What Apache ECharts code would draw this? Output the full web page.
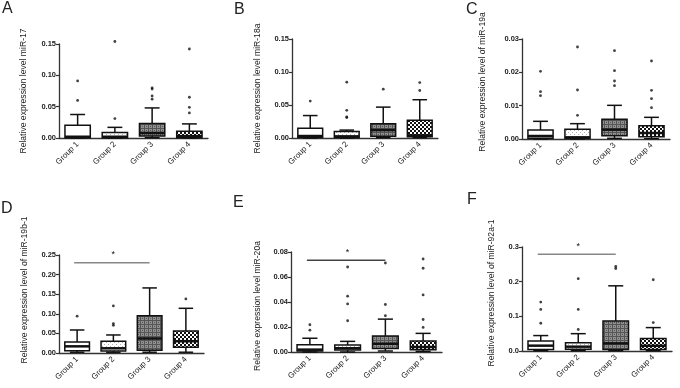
<!DOCTYPE html>
<html>
<head>
<meta charset="utf-8">
<script src="https://cdn.jsdelivr.net/npm/echarts@6/dist/echarts.min.js"></script>
<style>
html, body { margin: 0; padding: 0; background: #fff; }
#main { width: 680px; height: 388px; }
</style>
</head>
<body>
<div id="main"></div>
<script>
var groups = ['Group 1', 'Group 2', 'Group 3', 'Group 4'];

// box stats per group: [min, q1, median, q3, max]
var statsA = [[0, 0.0005, 0.002, 0.0204, 0.0375], [0, 0.0005, 0.002, 0.0086, 0.017], [0.0005, 0.003, 0.008, 0.023, 0.048], [0, 0.0005, 0.003, 0.0107, 0.0225]];
var statsB = [[0, 0.001, 0.003, 0.0146, 0.034], [0, 0.0008, 0.0025, 0.010, 0.012], [0.0005, 0.0025, 0.012, 0.0216, 0.0468], [0.0005, 0.002, 0.004, 0.027, 0.058]];
var statsC = [[0, 0.0002, 0.0009, 0.0027, 0.0053], [0, 0.0002, 0.0005, 0.0029, 0.0046], [0.0002, 0.001, 0.0028, 0.0059, 0.0101], [0.0001, 0.0007, 0.0018, 0.004, 0.0065]];
var statsD = [[0.002, 0.006, 0.017, 0.028, 0.0587], [0.002, 0.005, 0.012, 0.030, 0.046], [0.002, 0.007, 0.037, 0.095, 0.166], [0.002, 0.0145, 0.03, 0.056, 0.114]];
var statsE = [[0, 0.0008, 0.0019, 0.0058, 0.011], [0, 0.0016, 0.003, 0.0056, 0.0085], [0.0008, 0.0029, 0.0066, 0.0128, 0.0263], [0.0005, 0.0019, 0.004, 0.0088, 0.0149]];
var statsF = [[0.001, 0.004, 0.0154, 0.029, 0.0445], [0.001, 0.005, 0.0125, 0.024, 0.050], [0.001, 0.004, 0.022, 0.0868, 0.188], [0.001, 0.004, 0.015, 0.0357, 0.0675]];

// outliers: [group index, value]
var outA = [[0, 0.091], [0, 0.060], [1, 0.154], [1, 0.031], [2, 0.080], [2, 0.078], [2, 0.067], [2, 0.062], [3, 0.142], [3, 0.065], [3, 0.049], [3, 0.040]];
var outB = [[0, 0.056], [1, 0.0846], [1, 0.042], [1, 0.031], [1, 0.032], [2, 0.074], [3, 0.084], [3, 0.072]];
var outC = [[0, 0.0203], [0, 0.0142], [0, 0.013], [1, 0.0276], [1, 0.0147], [1, 0.0071], [2, 0.0265], [2, 0.0205], [2, 0.0174], [2, 0.016], [3, 0.0234], [3, 0.0146], [3, 0.0121], [3, 0.0094]];
var outD = [[0, 0.094], [1, 0.120], [1, 0.0705], [1, 0.075], [3, 0.138]];
var outE = [[0, 0.0218], [0, 0.0175], [1, 0.068], [1, 0.0447], [1, 0.0385], [1, 0.025], [2, 0.0712], [2, 0.038], [2, 0.029], [3, 0.0744], [3, 0.067], [3, 0.0457], [3, 0.026], [3, 0.0197]];
var outF = [[0, 0.141], [0, 0.120], [0, 0.080], [1, 0.2085], [1, 0.120], [1, 0.062], [2, 0.238], [2, 0.244], [3, 0.2055], [3, 0.082]];

// significance bar Group 1 - Group 3: [from, bar level, to, star level]
var sigD = [0, 0.23, 2, 0.25];
var sigE = [0, 0.0734, 2, 0.0797];
var sigF = [0, 0.279, 2, 0.30];

// y axis ticks: max, step, decimals
var ticksA = [0.15, 0.05, 2];
var ticksB = [0.15, 0.05, 2];
var ticksC = [0.03, 0.01, 2];
var ticksD = [0.25, 0.05, 2];
var ticksE = [0.08, 0.02, 2];
var ticksF = [0.3, 0.1, 1];

var FONT = 'Liberation Sans, Arial, sans-serif';

// fill patterns for the four groups
function makePattern(draw) {
    var c = document.createElement('canvas');
    c.width = 4;
    c.height = 4;
    var ctx = c.getContext('2d');
    draw(ctx);
    return { image: c, repeat: 'repeat' };
}
var fills = [
    '#ffffff',
    makePattern(function (ctx) {
        ctx.fillStyle = '#fff';
        ctx.fillRect(0, 0, 4, 4);
        ctx.fillStyle = '#b0b0b0';
        ctx.fillRect(0, 0, 1, 1);
        ctx.fillRect(2, 2, 1, 1);
    }),
    makePattern(function (ctx) {
        ctx.fillStyle = '#909090';
        ctx.fillRect(0, 0, 4, 4);
        ctx.fillStyle = '#555';
        ctx.fillRect(0, 0, 4, 1);
        ctx.fillRect(0, 0, 1, 4);
        ctx.fillRect(2, 2, 1, 1);
    }),
    makePattern(function (ctx) {
        ctx.fillStyle = '#fff';
        ctx.fillRect(0, 0, 4, 4);
        ctx.fillStyle = '#111';
        ctx.fillRect(0, 0, 2, 2);
        ctx.fillRect(2, 2, 2, 2);
    })
];

var panels = [
    { letter: 'A', pos: [2, 0.5], name: 'Relative expression level miR-17', stats: statsA, out: outA, sig: null, ticks: ticksA,
      grid: { left: 59, top: 44, width: 149, height: 94 }, gap: 31, shift: 0 },
    { letter: 'B', pos: [234, 1.5], name: 'Relative expression level miR-18a', stats: statsB, out: outB, sig: null, ticks: ticksB,
      grid: { left: 292, top: 39, width: 146, height: 99 }, gap: 30, shift: 0 },
    { letter: 'C', pos: [466, 1.5], name: 'Relative expression level of miR-19a', stats: statsC, out: outC, sig: null, ticks: ticksC,
      grid: { left: 522, top: 39, width: 148, height: 100 }, gap: 35, shift: 7 },
    { letter: 'D', pos: [1, 200.5], name: 'Relative expression level of miR-19b-1', stats: statsD, out: outD, sig: sigD, ticks: ticksD,
      grid: { left: 59, top: 255, width: 145, height: 98 }, gap: 30, shift: 14, sigColor: '#888' },
    { letter: 'E', pos: [233, 194.5], name: 'Relative expression level miR-20a', stats: statsE, out: outE, sig: sigE, ticks: ticksE,
      grid: { left: 291, top: 252, width: 151, height: 100 }, gap: 29, shift: -4, sigColor: '#444' },
    { letter: 'F', pos: [467, 191.5], name: 'Relative expression level of miR-92a-1', stats: statsF, out: outF, sig: sigF, ticks: ticksF,
      grid: { left: 522, top: 247, width: 150, height: 104 }, gap: 26, shift: 6, sigColor: '#888' }
];

function renderBox(params, api) {
    var x = api.value(0);
    var pMin = api.coord([x, api.value(1)]);
    var pQ1 = api.coord([x, api.value(2)]);
    var pMed = api.coord([x, api.value(3)]);
    var pQ3 = api.coord([x, api.value(4)]);
    var pMax = api.coord([x, api.value(5)]);
    var band = api.size([1, 0])[0];
    var bw = band * 0.68;
    var cw = band * 0.4;
    var cx = pMed[0];
    var ln = { stroke: '#111', lineWidth: 1.5, fill: null };
    return {
        type: 'group',
        children: [
            { type: 'line', shape: { x1: cx, y1: pQ3[1], x2: cx, y2: pMax[1] }, style: ln },
            { type: 'line', shape: { x1: cx - cw / 2, y1: pMax[1], x2: cx + cw / 2, y2: pMax[1] }, style: ln },
            { type: 'line', shape: { x1: cx, y1: pQ1[1], x2: cx, y2: pMin[1] }, style: ln },
            { type: 'line', shape: { x1: cx - cw / 2, y1: pMin[1], x2: cx + cw / 2, y2: pMin[1] }, style: ln },
            { type: 'rect', shape: { x: cx - bw / 2, y: pQ3[1], width: bw, height: pQ1[1] - pQ3[1] },
              style: { fill: fills[x], stroke: '#111', lineWidth: 1.5 } },
            { type: 'line', shape: { x1: cx - bw / 2, y1: pMed[1], x2: cx + bw / 2, y2: pMed[1] },
              style: { stroke: '#111', lineWidth: 2.5, fill: null } }
        ]
    };
}

function sigRenderer(color) {
    return function (params, api) {
        var a = api.coord([api.value(0), api.value(1)]);
        var b = api.coord([api.value(2), api.value(1)]);
        var s = api.coord([1, api.value(3)]);
        return {
            type: 'group',
            children: [
                { type: 'line', shape: { x1: a[0] - 3, y1: a[1], x2: b[0], y2: b[1] },
                  style: { stroke: color, lineWidth: 1.5, fill: null } },
                { type: 'text', x: s[0], y: s[1],
                  style: { text: '*', fill: '#111', font: '9px ' + FONT, textAlign: 'center', textVerticalAlign: 'middle' } }
            ]
        };
    };
}

var option = { animation: false, title: [], grid: [], xAxis: [], yAxis: [], series: [] };

panels.forEach(function (p, i) {
    option.title.push({
        text: p.letter, left: p.pos[0], top: p.pos[1], padding: 0,
        textStyle: { fontSize: 16, fontWeight: 'normal', color: '#222', fontFamily: FONT }
    });
    option.grid.push(p.grid);
    option.xAxis.push({
        type: 'category', gridIndex: i, data: groups,
        axisLine: { lineStyle: { color: '#333', width: 1.3 } },
        axisTick: { alignWithLabel: true, length: 3, lineStyle: { color: '#333', width: 1.2 } },
        axisLabel: { rotate: 45, fontSize: 8, margin: 5, color: '#222', fontFamily: FONT }
    });
    var dec = p.ticks[2];
    option.yAxis.push({
        type: 'value', gridIndex: i, min: 0, max: p.ticks[0], interval: p.ticks[1],
        name: p.name, nameLocation: 'middle', nameGap: p.gap,
        nameTextStyle: { fontSize: 8.6, color: '#222', fontFamily: FONT,
            padding: p.shift > 0 ? [0, 0, 0, 2 * p.shift] : [0, -2 * p.shift, 0, 0] },
        axisLine: { show: true, lineStyle: { color: '#333', width: 1.3 } },
        axisTick: { show: true, length: 3, lineStyle: { color: '#333', width: 1.2 } },
        splitLine: { show: false },
        axisLabel: { fontSize: 7.5, fontWeight: 'bold', margin: 3, color: '#222', fontFamily: FONT,
            formatter: function (v) { return v.toFixed(dec); } }
    });
    option.series.push({
        type: 'custom', xAxisIndex: i, yAxisIndex: i, renderItem: renderBox, clip: false,
        encode: { x: 0, y: [1, 2, 3, 4, 5] },
        data: p.stats.map(function (s, g) { return [g].concat(s); })
    });
    option.series.push({
        type: 'scatter', xAxisIndex: i, yAxisIndex: i, symbolSize: 2.8, clip: false,
        itemStyle: { color: '#111' }, data: p.out
    });
    if (p.sig) {
        option.series.push({
            type: 'custom', xAxisIndex: i, yAxisIndex: i, renderItem: sigRenderer(p.sigColor),
            encode: { x: [0, 2], y: [1, 3] }, data: [p.sig], clip: false, z: 5
        });
    }
});

var myChart = echarts.init(document.getElementById('main'));
myChart.setOption(option);
</script>
</body>
</html>
